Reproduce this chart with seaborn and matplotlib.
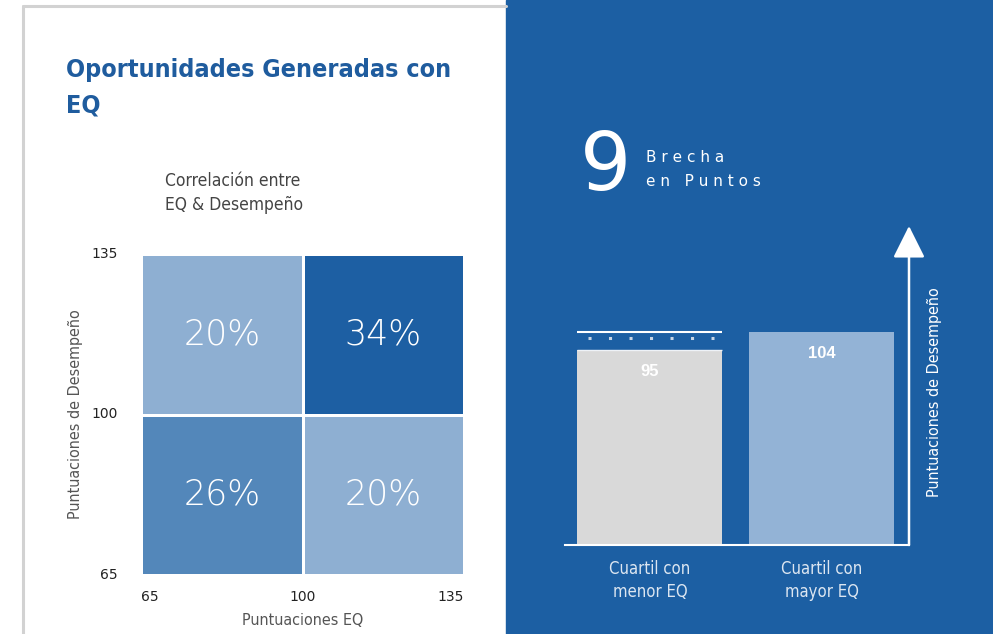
import seaborn as sns
import numpy as np
import matplotlib.pyplot as plt
from matplotlib.colors import LinearSegmentedColormap
from matplotlib.patches import Rectangle
from matplotlib.lines import Line2D

# heatmap: rows top -> bottom (desempeño alto, bajo), cols left -> right (EQ bajo, alto)
grid_values = np.array([[20, 34],
                        [26, 20]])
eq_ticks = ["65", "100", "135"]
perf_ticks = ["135", "100", "65"]

# bars
quartiles = ["Cuartil con\nmenor EQ", "Cuartil con\nmayor EQ"]
scores = [95, 104]
gap = 9

BLUE = "#1c5fa3"
sns.set_style("white")
plt.rcParams["font.family"] = ["DejaVu Sans"]

fig = plt.figure(figsize=(9.93, 6.34), dpi=100)

# panels
fig.patches.append(Rectangle((506 / 993, 0), 1 - 506 / 993, 1, transform=fig.transFigure,
                             color=BLUE, zorder=-5))
fig.add_artist(Line2D([22.5 / 993, 22.5 / 993], [0, 1 - 6 / 634], color="#d2d2d2", lw=2.2,
                      zorder=-4))
fig.add_artist(Line2D([22.5 / 993, 506 / 993], [1 - 6 / 634, 1 - 6 / 634], color="#d2d2d2",
                      lw=2.2, zorder=-4))

fig.text(66 / 993, 1 - 58 / 634, "Oportunidades Generadas con\nEQ", color="#1f5c9e",
         fontsize=18, fontweight="bold", fontstretch="condensed", va="top",
         linespacing=1.6)
fig.text(165 / 993, 1 - 172 / 634, "Correlación entre\nEQ & Desempeño", color="#444444",
         fontsize=12.5, fontstretch="condensed", va="top", linespacing=1.45)

# heatmap
ax_h = fig.add_axes([141 / 993, 1 - 575 / 634, 323 / 993, 321 / 634])
cmap = LinearSegmentedColormap.from_list(
    "eq", [(0, "#8eafd2"), (6 / 14, "#5387ba"), (1, "#1d5fa3")])
annot = np.array([[f"{v}%" for v in row] for row in grid_values])
sns.heatmap(grid_values, ax=ax_h, cmap=cmap, vmin=20, vmax=34, cbar=False,
            annot=annot, fmt="", linewidths=0.8, linecolor="white",
            annot_kws=dict(color="white", fontsize=25, fontweight="light"))
ax_h.set_xticks([0, 1, 2])
ax_h.set_xticklabels(eq_ticks, fontsize=10, color="#222222")
ax_h.set_yticks([0, 1, 2])
ax_h.set_yticklabels(perf_ticks, fontsize=10, color="#222222", rotation=0)
for lab, ha in zip(ax_h.get_xticklabels(), ["left", "center", "right"]):
    lab.set_ha(ha)
ax_h.tick_params(axis="x", length=0, pad=11)
ax_h.tick_params(axis="y", length=0, pad=17)
ax_h.set_xlabel("Puntuaciones EQ", fontsize=11.5, color="#555555", labelpad=6,
                fontstretch="condensed")
ax_h.set_ylabel("Puntuaciones de Desempeño", fontsize=11.5, color="#555555", labelpad=6,
                fontstretch="condensed")

# right panel header
fig.text(580 / 993, 1 - 190 / 634, str(gap), color="white", fontsize=58,
         fontweight="normal", va="baseline")
fig.text(646 / 993, 1 - 162 / 634, "B r e c h a", color="white", fontsize=11, va="baseline")
fig.text(646 / 993, 1 - 186 / 634, "e n   P u n t o s", color="white", fontsize=11, va="baseline")

# bar chart
ax_b = fig.add_axes([565 / 993, 1 - 545 / 634, 344 / 993, 319 / 634])
ax_b.set_facecolor("none")
sns.barplot(x=quartiles, y=scores, hue=quartiles, palette=["#d9d9d9", "#93b3d6"],
            width=0.843, legend=False, ax=ax_b, saturation=1, linewidth=0)
ax_b.set_xlim(-0.494, 1.506)
ax_b.set_ylim(0, 155.8)
for i, v in enumerate(scores):
    ax_b.text(i, v - 10.5, str(v), ha="center", va="center", color="white",
              fontsize=12, fontweight="bold", family=["Liberation Sans", "DejaVu Sans"])
ax_b.hlines(scores[1], -0.4215, 0.4215, color="white", lw=1.5)
ax_b.hlines(scores[0] + 0.3, -0.4215, 0.4215, color="#eef2f7", lw=1)
ax_b.hlines(scores[1] - 3, -0.36, 0.37, color="#c9d5e4", lw=2.2, linestyles=(0, (1, 5.71)))
sns.despine(ax=ax_b, left=True)
ax_b.spines["bottom"].set_color("white")
ax_b.spines["bottom"].set_linewidth(1.5)
ax_b.set_yticks([])
ax_b.set_xlabel("")
ax_b.tick_params(axis="x", length=0, pad=11, labelsize=12, labelcolor="#dce6f1")
for lab in ax_b.get_xticklabels():
    lab.set_fontstretch("condensed")
    lab.set_linespacing(1.35)
ax_b.annotate("", xy=(1, 1), xytext=(1, 0), xycoords="axes fraction",
              arrowprops=dict(arrowstyle="-|>,head_length=0.9,head_width=0.45",
                              color="white", lw=1.8, mutation_scale=22,
                              shrinkA=0, shrinkB=0))
fig.text(935 / 993, 1 - 392 / 634, "Puntuaciones de Desempeño", color="white",
         fontsize=11.5, rotation=90, ha="center", va="center", fontstretch="condensed")

fig.savefig("out.png", dpi=100)
